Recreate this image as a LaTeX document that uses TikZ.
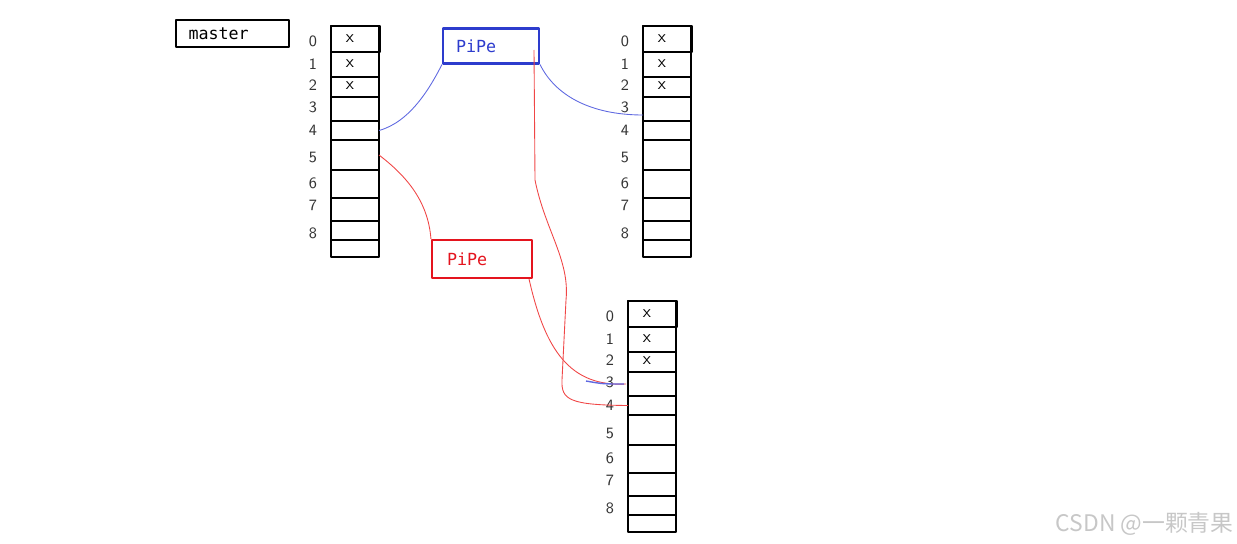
\documentclass[tikz,border=0pt]{standalone}
\usepackage{fontspec}
\newfontfamily\monofont{DejaVu Sans Mono}
\newfontfamily\cjk{Noto Sans CJK SC}
\definecolor{pipeblue}{RGB}{45,60,205}
\definecolor{wireblue}{RGB}{95,105,225}
\definecolor{pipered}{RGB}{228,20,30}
\definecolor{wirered}{RGB}{240,70,70}
\begin{document}
\begin{tikzpicture}[x={(0.02cm,0cm)}, y={(0cm,-0.02cm)}, line join=round,
	cell/.style={draw=black, line width=1.2pt},
	thickcell/.style={draw=black, line width=1.5pt},
	digit/.style={font=\sffamily\small, text=black!80, inner sep=0pt},
	xmark/.style={font=\sffamily, inner sep=0pt},
	pipebox/.style={draw, line width=1.2pt, minimum height=35*0.02cm, inner xsep=13*0.02cm, text width=70*0.02cm, align=left, font=\monofont\fontsize{9.5}{11}\selectfont},
	bluewire/.style={wireblue, line width=0.5pt},
	redwire/.style={wirered, line width=0.5pt}]
	\useasboundingbox (0,0) rectangle (1237,544);
	
	\node[draw, line width=1.2pt, minimum width=113*0.02cm, minimum height=27*0.02cm, font=\monofont\fontsize{9.5}{11}\selectfont, text width=88*0.02cm] (master) at (232.5,33.5) {master};
	
	\foreach \p/\tx/\ty in {m/331/26, a/643/26, c/628/301} {
		\begin{scope}[shift={(\tx,\ty)}, name prefix=\p-]
			\foreach \i/\a/\b in {0/0/26, 1/26/51, 2/51/71, 3/71/95, 4/95/114, 5/114/144, 6/144/172, 7/172/195, 8/195/214, 9/214/231} {
				\draw[cell] (0,\a) rectangle (48,\b);
				\coordinate (\i-w) at (0,{(\a+\b)/2});
				\coordinate (\i-e) at (48,{(\a+\b)/2});
			}
			\draw[thickcell] (0,114) rectangle (48,172);
			\draw[cell] (0,0) rectangle (49,26);
			\foreach \i/\y in {0/15, 1/38, 2/59, 3/81, 4/104, 5/132, 6/157, 7/179, 8/207}
				\node[digit] (lab\i) at (-18,\y) {\i};
			\foreach \i/\y in {0/13, 1/38, 2/60}
				\node[xmark] (x\i) at (19,\y) {x};
		\end{scope}
	}
	
	\node[pipebox, draw=pipeblue, text=pipeblue] (bp) at (491,46) {PiPe};
	\node[pipebox, draw=pipered, text=pipered, minimum height=38*0.02cm, inner xsep=15*0.02cm] (rp) at (482,259) {PiPe};
	\coordinate (fork) at (534,50);
	
	\draw[bluewire] (m-4-e) .. controls (410,122) and (430,88) .. (bp.south west);
	\draw[bluewire] (bp.south east) .. controls (555,95) and (590,115) .. ([shift={(0,6)}]a-3-w);
	\draw[redwire] (m-5-e) .. controls (405,175) and (428,200) .. (rp.north west);
	\draw[redwire] ([shift={(-4,0)}]rp.south east) .. controls (545,350) and (570,387) .. ([shift={(-2,0)}]c-3-w);
	\draw[redwire] (fork) -- (535,180) .. controls (545,230) and (570,260) .. (566,300) -- (562,380) .. controls (561,400) and (570,405) .. (c-4-w);
	\draw[bluewire, line width=0.8pt] ([shift={(-42,-3)}]c-3-w) .. controls ([shift={(-25,0)}]c-3-w) .. ([shift={(-4,0)}]c-3-w);
	
	\node[font=\cjk\fontsize{13}{15}\selectfont, text=black!22, anchor=east, inner sep=0pt] (wm) at (1234,524) {CSDN @一颗青果};
\end{tikzpicture}
\end{document}
